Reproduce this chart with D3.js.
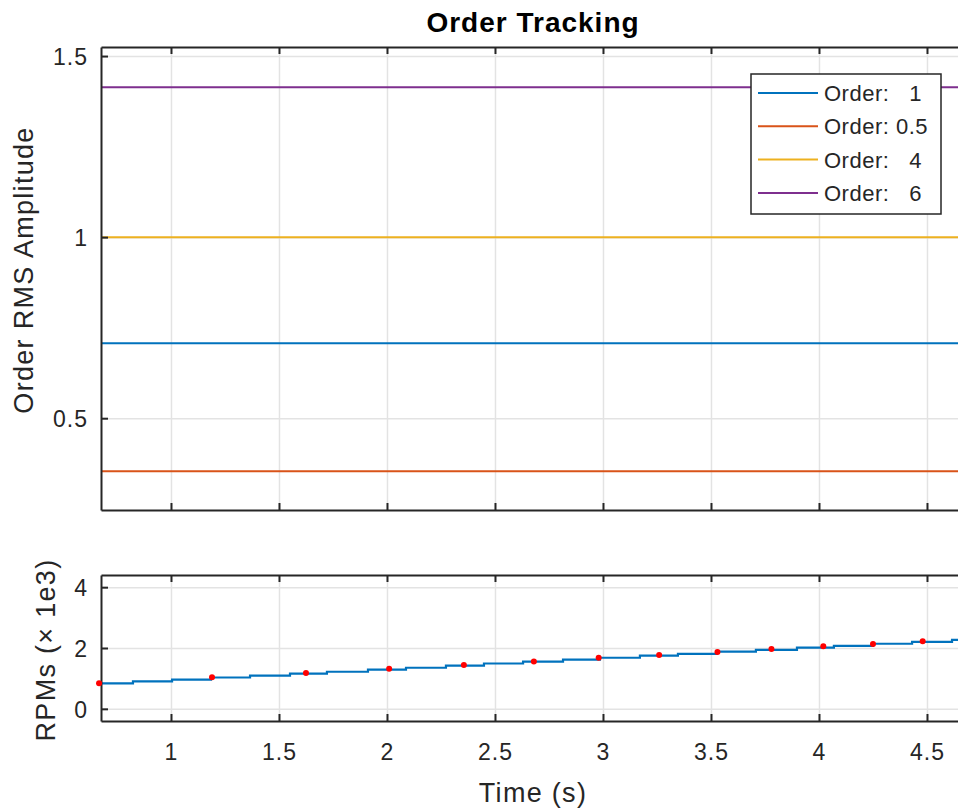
<!DOCTYPE html>
<html><head><meta charset="utf-8">
<script src="https://cdn.jsdelivr.net/npm/d3@7"></script>
<style>
html,body{margin:0;padding:0;background:#fff;}
text{font-family:"Liberation Sans",Arial,Helvetica,sans-serif;fill:#262626;}
</style></head>
<body>
<svg id="chart" width="958" height="808"></svg>
<script>
// ---- data ----
const orderLabels = ["Order:   1", "Order: 0.5", "Order:   4", "Order:   6"];
const orderAmps = [0.7071, 0.3536, 1.0, 1.4142];
const orderColors = ["#0072BD", "#D95319", "#EDB120", "#7E2F8E"];
const timeDomain = [0.676, 4.676];
const xTicks = [1, 1.5, 2, 2.5, 3, 3.5, 4, 4.5];
const ampTicks = [0.5, 1, 1.5];
const rpmTicks = [0, 2, 4];
// RPM staircase (x 1e3): step start times and held values
const stepTimes = [0.676, 0.824, 1.005, 1.185, 1.366, 1.551, 1.722, 1.912, 2.088, 2.273, 2.449, 2.630, 2.815, 2.986, 3.171, 3.347, 3.528, 3.708, 3.898, 4.069, 4.250, 4.431, 4.616, 4.676];
const stepValues = [0.84, 0.90, 0.96, 1.03, 1.09, 1.16, 1.22, 1.29, 1.35, 1.42, 1.49, 1.55, 1.62, 1.68, 1.75, 1.81, 1.88, 1.94, 2.01, 2.07, 2.14, 2.20, 2.27, 2.27];
// red markers
const dotTimes = [0.667, 1.19, 1.625, 2.01, 2.356, 2.68, 2.98, 3.26, 3.53, 3.78, 4.02, 4.25, 4.48];
const dotValues = [0.84, 1.04, 1.18, 1.32, 1.44, 1.56, 1.68, 1.77, 1.87, 1.97, 2.06, 2.13, 2.22];

// ---- layout ----
const svg = d3.select("#chart");
const axisColor = "#262626", textColor = "#303030", gridColor = "#e3e3e3";
const L = 101, R = 965;
const top1 = 47, bot1 = 510, top2 = 575, bot2 = 721;
const tickLen = 7;

const x = d3.scaleLinear().domain(timeDomain).range([L, R]);
const y1 = d3.scaleLinear().domain([0.2465, 1.525]).range([bot1, top1]);
const y2 = d3.scaleLinear().domain([-0.4, 4.4]).range([bot2, top2]);

svg.append("rect").attr("width", 958).attr("height", 808).attr("fill", "#fff");

const defs = svg.append("defs");
defs.append("clipPath").attr("id", "c1").append("rect")
  .attr("x", L).attr("y", top1).attr("width", R - L).attr("height", bot1 - top1);
defs.append("clipPath").attr("id", "c2").append("rect")
  .attr("x", L).attr("y", top2).attr("width", R - L).attr("height", bot2 - top2);

function drawFrame(yScale, yTicks, top, bot) {
  const g = svg.append("g");
  g.append("g").call(d3.axisBottom(x).tickValues(xTicks).tickSize(-(bot - top)).tickFormat(""))
    .attr("transform", `translate(0,${bot})`)
    .call(s => { s.select(".domain").remove(); s.selectAll("line").attr("stroke", gridColor).attr("stroke-width", 1.5); });
  g.append("g").call(d3.axisLeft(yScale).tickValues(yTicks).tickSize(-(R - L)).tickFormat(""))
    .attr("transform", `translate(${L},0)`)
    .call(s => { s.select(".domain").remove(); s.selectAll("line").attr("stroke", gridColor).attr("stroke-width", 1.5); });
  return g;
}

function drawAxes(yScale, yTicks, top, bot, showXLabels) {
  const g = svg.append("g");
  const xb = g.append("g").attr("transform", `translate(0,${bot})`)
    .call(d3.axisBottom(x).tickValues(xTicks).tickSizeInner(-tickLen).tickSizeOuter(0)
      .tickPadding(0).tickFormat(showXLabels ? d3.format("") : ""));
  xb.select(".domain").attr("stroke", axisColor).attr("stroke-width", 2);
  xb.selectAll("line").attr("stroke", axisColor).attr("stroke-width", 2);
  xb.selectAll("text").attr("font-size", 23).attr("letter-spacing", 1).attr("fill", textColor)
    .attr("dy", 0).attr("y", 39);
  const xt = g.append("g").attr("transform", `translate(0,${top})`)
    .call(d3.axisTop(x).tickValues(xTicks).tickSizeInner(-tickLen).tickSizeOuter(0).tickFormat(""));
  xt.select(".domain").attr("stroke", axisColor).attr("stroke-width", 2);
  xt.selectAll("line").attr("stroke", axisColor).attr("stroke-width", 2);
  const yl = g.append("g").attr("transform", `translate(${L},0)`)
    .call(d3.axisLeft(yScale).tickValues(yTicks).tickSizeInner(-tickLen).tickSizeOuter(0)
      .tickPadding(13).tickFormat(d3.format("")));
  yl.select(".domain").attr("stroke", axisColor).attr("stroke-width", 2);
  yl.selectAll("line").attr("stroke", axisColor).attr("stroke-width", 2);
  yl.selectAll("text").attr("font-size", 23).attr("letter-spacing", 1).attr("fill", textColor).attr("dy", "0.36em");
  return g;
}

// ---- top panel ----
drawFrame(y1, ampTicks, top1, bot1);
const p1 = svg.append("g").attr("clip-path", "url(#c1)");
orderAmps.forEach((a, i) => {
  p1.append("path")
    .attr("d", d3.line().x(d => x(d)).y(() => y1(a))(timeDomain))
    .attr("stroke", orderColors[i]).attr("stroke-width", 2).attr("fill", "none");
});
drawAxes(y1, ampTicks, top1, bot1, false);

// ---- bottom panel ----
drawFrame(y2, rpmTicks, top2, bot2);
const p2 = svg.append("g").attr("clip-path", "url(#c2)");
const stepPts = stepTimes.map((t, i) => [t, stepValues[i]]);
p2.append("path")
  .attr("d", d3.line().curve(d3.curveStepAfter).x(d => x(d[0])).y(d => y2(d[1]))(stepPts))
  .attr("stroke", "#0072BD").attr("stroke-width", 2.2).attr("fill", "none");
drawAxes(y2, rpmTicks, top2, bot2, true);
svg.append("g").selectAll("circle").data(dotTimes).join("circle")
  .attr("cx", (d) => x(d)).attr("cy", (d, i) => y2(dotValues[i]))
  .attr("r", 3).attr("fill", "#ff0000");

// ---- legend ----
const lg = svg.append("g");
lg.append("rect").attr("x", 751).attr("y", 74).attr("width", 190).attr("height", 140)
  .attr("fill", "#fff").attr("stroke", axisColor).attr("stroke-width", 1.5);
orderLabels.forEach((lab, i) => {
  const cy = 93 + i * 33.3;
  lg.append("line").attr("x1", 758).attr("x2", 818).attr("y1", cy).attr("y2", cy)
    .attr("stroke", orderColors[i]).attr("stroke-width", 2);
  lg.append("text").attr("x", 824).attr("y", cy).attr("dy", "0.36em")
    .attr("font-size", 22).attr("letter-spacing", 0.5).attr("fill", textColor)
    .style("white-space", "pre").attr("xml:space", "preserve").text(lab);
});

// ---- titles ----
svg.append("text").attr("x", 533).attr("y", 32).attr("text-anchor", "middle")
  .attr("font-size", 28).attr("font-weight", "bold").attr("letter-spacing", 1).style("fill", "#000")
  .text("Order Tracking");
svg.append("text").attr("transform", "translate(33,270) rotate(-90)").attr("text-anchor", "middle")
  .attr("font-size", 27).attr("letter-spacing", 1.3).attr("fill", textColor).text("Order RMS Amplitude");
svg.append("text").attr("transform", "translate(55,650) rotate(-90)").attr("text-anchor", "middle")
  .attr("font-size", 27).attr("letter-spacing", 1.3).attr("fill", textColor).text("RPMs (\u00d7 1e3)");
svg.append("text").attr("x", 533).attr("y", 802).attr("text-anchor", "middle")
  .attr("font-size", 27).attr("letter-spacing", 1.3).attr("fill", textColor).text("Time (s)");
</script>
</body></html>
